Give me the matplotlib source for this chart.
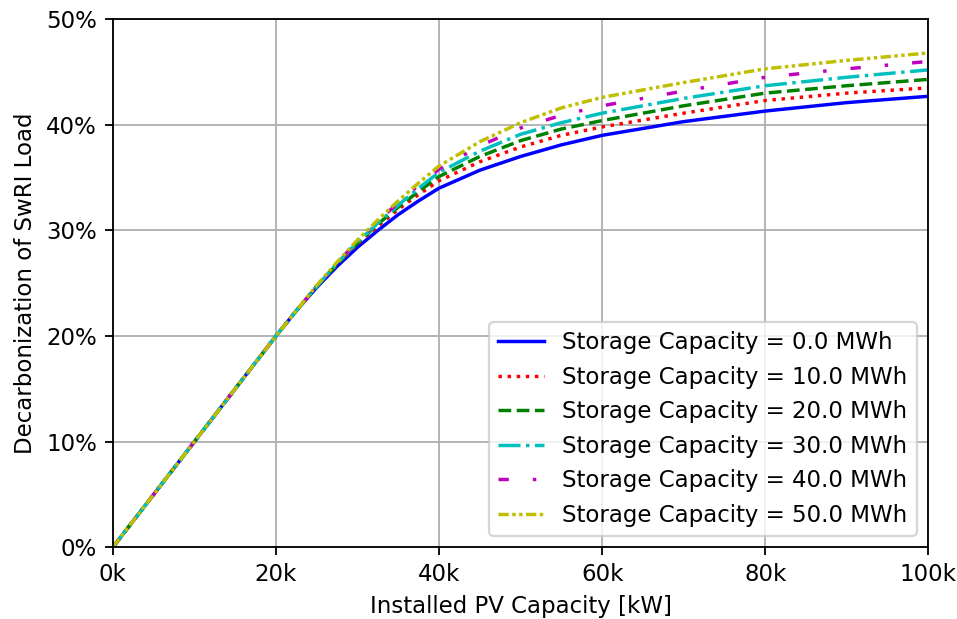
import matplotlib
matplotlib.use("Agg")
import matplotlib.pyplot as plt
from matplotlib.ticker import FuncFormatter

# installed PV capacity [kW]
pv_kw = [0, 10000, 20000, 22500, 25000, 27500, 30000, 32500, 35000, 37500,
         40000, 45000, 50000, 55000, 60000, 70000, 80000, 90000, 100000]

storage_mwh = [0.0, 10.0, 20.0, 30.0, 40.0, 50.0]

# decarbonization fraction (%), one list per storage size
decarb_0 = [0, 10, 20, 22.4, 24.6, 26.6, 28.4, 30.0, 31.5, 32.8, 34.0, 35.7, 37.0, 38.1, 39.0, 40.3, 41.3, 42.1, 42.7]
decarb_10 = [0, 10, 20, 22.4, 24.7, 26.8, 28.7, 30.4, 32.0, 33.4, 34.7, 36.5, 37.9, 39.0, 39.8, 41.1, 42.3, 43.0, 43.5]
decarb_20 = [0, 10, 20, 22.4, 24.7, 26.8, 28.8, 30.6, 32.2, 33.7, 35.1, 37.0, 38.5, 39.6, 40.4, 41.8, 43.0, 43.7, 44.3]
decarb_30 = [0, 10, 20, 22.4, 24.7, 26.9, 28.9, 30.7, 32.4, 34.0, 35.5, 37.5, 39.1, 40.2, 41.1, 42.5, 43.7, 44.5, 45.2]
decarb_40 = [0, 10, 20, 22.4, 24.7, 26.9, 29.0, 30.9, 32.6, 34.3, 35.8, 38.0, 39.7, 40.9, 41.8, 43.2, 44.5, 45.3, 46.0]
decarb_50 = [0, 10, 20, 22.4, 24.8, 27.0, 29.1, 31.0, 32.8, 34.5, 36.1, 38.4, 40.2, 41.6, 42.6, 44.0, 45.3, 46.1, 46.8]

series = [decarb_0, decarb_10, decarb_20, decarb_30, decarb_40, decarb_50]
colors = ['b', 'r', 'g', 'c', 'm', 'y']
styles = ['-', ':', '--', '-.', (0, (3, 7, 1, 7)), (0, (3, 1, 1, 1, 1, 1))]

# original looks like a default 10pt figure blown up ~1.65x
dpi = 165
fig = plt.figure(figsize=(957 / dpi, 619 / dpi), dpi=dpi)
ax = fig.add_axes([0.118, 0.116, 0.852, 0.853])

for mwh, vals, c, ls in zip(storage_mwh, series, colors, styles):
    ax.plot(pv_kw, [v / 100 for v in vals], color=c, linestyle=ls,
            label="Storage Capacity = %.1f MWh" % mwh)

ax.set_xlim(0, 100000)
ax.set_ylim(0, 0.5)
ax.xaxis.set_major_formatter(FuncFormatter(lambda x, p: "%dk" % round(x / 1000)))
ax.yaxis.set_major_formatter(FuncFormatter(lambda y, p: "%d%%" % round(y * 100)))
ax.grid(True)
ax.set_xlabel("Installed PV Capacity [kW]")
ax.set_ylabel("Decarbonization of SwRI Load")
ax.legend(loc="lower right")

fig.savefig("out.png", dpi=dpi)
